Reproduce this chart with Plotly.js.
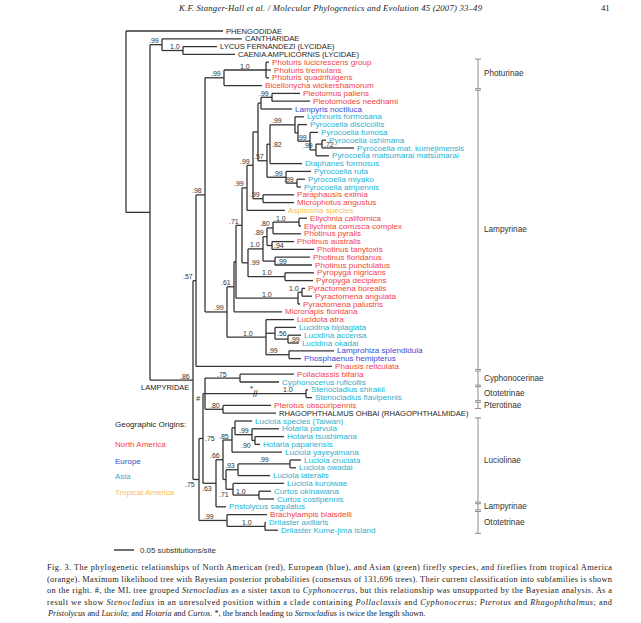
<!DOCTYPE html>
<html><head><meta charset="utf-8">
<script src="https://cdn.plot.ly/plotly-3.0.1.min.js"></script>
<style>html,body{margin:0;padding:0;background:#fff}#chart{width:641px;height:623px}</style>
</head><body><div id="chart"></div>
<script>
// ================= DATA =================
// Tips (top to bottom), geographic region, parent node and depth (substitutions/site from root)
const leafNames = [
 'PHENGODIDAE','CANTHARIDAE','LYCUS FERNANDEZI (LYCIDAE)','CAENIA AMPLICORNIS (LYCIDAE)',
 'Photuris lucicrescens group','Photuris tremulans','Photuris quadrifulgens','Bicellonycha wickershamorum',
 'Pleotomus pallens','Pleotomodes needhami','Lampyris noctiluca','Lychnuris formosana',
 'Pyrocoelia discicollis','Pyrocoelia fumosa','Pyrocoelia oshimana','Pyrocoelia mat. kumejimensis',
 'Pyrocoelia matsumarai matsumarai','Diaphanes formosus','Pyrocoelia rufa','Pyrocoelia miyako',
 'Pyrocoelia atripennis','Paraphausis eximia','Microphotus angustus','Aspisoma species',
 'Ellychnia californica','Ellychnia corrusca complex','Photinus pyralis','Photinus australis',
 'Photinus tanytoxis','Photinus floridanus','Photinus punctulatus','Pyropyga nigricans',
 'Pyropyga decipiens','Pyractomena borealis','Pyractomena angulata','Pyractomena palustris',
 'Micronapis floridana','Lucidota atra','Lucidina biplagiata','Lucidina accensa',
 'Lucidina okadai','Lamprohiza splendidula','Phosphaenus hemipterus','Phausis reticulata',
 'Pollaclassis bifaria','Cyphonocerus ruficollis','Stenocladius shirakii','Stenocladius flavipennis',
 'Pterotus obscuripennis','RHAGOPHTHALMUS OHBAI (RHAGOPHTHALMIDAE)','Luciola species (Taiwan)','Hotaria parvula',
 'Hotaria tsushimana','Hotaria papariensis','Luciola yayeyamana','Luciola cruciata',
 'Luciola owadai','Luciola lateralis','Luciola kuroiwae','Curtos okinawana',
 'Curtos costipennis','Pristolycus sagulatus','Brachylampis blaisdelli','Drilaster axillaris',
 'Drilaster Kume-jima island'];
const leafRegion = [
 'O','O','O','O','NA','NA','NA','NA','NA','NA','EU','AS','AS','AS','AS','AS','AS','AS','AS','AS',
 'AS','NA','NA','TA','NA','NA','NA','NA','NA','NA','NA','NA','NA','NA','NA','NA','NA','NA','AS','AS',
 'AS','EU','EU','NA','NA','AS','AS','AS','NA','O','AS','AS','AS','AS','AS','AS','AS','AS','AS','AS',
 'AS','AS','NA','AS','AS'];
const leafParent = [
 'root','B','LYC','LYC','PHS','PHS','PHS','PHO','PLt','PLt','PL','LC','PD','PF','P72','P72','PO','N82','PR','PMA',
 'PMA','PM','PM','N99c','E','E','N80','N94','N94','N99fp','N99fp','PY','PY','Pb','Pb','P','N61','L10','LN','AO',
 'AO','LP','LP','N57','PC','PC','ST','ST','PR2','PR2','TH','H','HT','HT','N85','LC2','LC2','N93','N71b','CU',
 'CU','N63','D99','DA','DA'];
const leafDepth = [
 0.2425,0.29,0.2275,0.2725,0.3575,0.3625,0.3575,0.34,0.435,0.46,0.415,0.445,0.4525,0.48,0.50,0.57,0.5075,0.44,0.4625,0.4475,
 0.4375,0.42,0.42,0.3975,0.4525,0.4375,0.4375,0.42,0.47,0.46,0.465,0.47,0.4675,0.4475,0.465,0.435,0.39,0.42,0.425,0.4375,
 0.4325,0.52,0.4375,0.515,0.42,0.3825,0.455,0.465,0.3625,0.375,0.315,0.3825,0.395,0.335,0.39,0.4375,0.425,0.36,0.395,0.3625,
 0.37,0.25,0.3525,0.35,0.38];

// Internal nodes: id, parent, depth (substitutions/site), Bayesian support
const nodeIds = ['root','A','B','LYC','LAMPY','N57','N98','PHO','PHS','N99b','N61','Q','N71','N99c','N99e','N57c','PL','PLt','AC','N82',
 'LC','PD','PF','PO','P72','PR','PMA','PM','N99d','PH','N89','N80','E','N94','N99fp','PY','P','Pb','L10','LN',
 'AO','LP','N75b','N75c','U','PC','ST','PR2','N63','N66','N85','TH','H','HT','LK','N93','LC2','N71b','CU','D99','DA'];
const nodeParent = [null,'root','A','B','A','LAMPY','N57','N98','PHO','N98','N99b','N61','Q','N71','N99c','N99e','N57c','PL','N57c','AC',
 'N82','LC','PD','PF','PO','AC','PR','N99e','N71','N99d','PH','N89','N80','N89','PH','N99d','Q','P','N99b','L10',
 'LN','L10','LAMPY','N75b','N75c','U','U','U','N75c','N63','N66','N85','TH','H','N66','LK','N93','LK','N71b','N75b','D99'];
const nodeDepth = [0,0.06,0.09,0.1425,0.1675,0.175,0.1975,0.245,0.35,0.2525,0.27,0.275,0.29,0.3025,0.3175,0.33,0.3375,0.365,0.3525,0.36,
 0.4225,0.43,0.46,0.475,0.49,0.40,0.4275,0.3425,0.305,0.3425,0.3525,0.3675,0.4325,0.365,0.3725,0.3975,0.43,0.44,0.35,0.3725,
 0.405,0.4075,0.1825,0.1925,0.1975,0.285,0.45,0.2425,0.225,0.2425,0.265,0.2725,0.315,0.3225,0.25,0.28,0.41,0.2675,0.3325,0.2525,0.3475];
const nodeSupport = ['','','.99','1.0','.86','.57','.98','.99','1.0','.99','.61','','.71','.99','.99','','','.99','.57','.82',
 '.99','','.99','.99','.72','.99','.99','.99','.99','1.0','.89','.80','1.0','.94','.99','1.0','1.0','1.0','1.0','.56',
 '.99','.99','.75','.75','#','.75','1.0','.80','.63','.66','.85','','.99','.90','','.93','.99','.71','1.0','.99','1.0'];

// Subfamily classification (right-hand brackets), by first/last tip row
const subfamNames = ['Photurinae','Lampyrinae','Cyphonocerinae','Ototetrinae','Pterotinae','Luciolinae','Lampyrinae','Ototetrinae'];
const subfamFirst = [4,8,44,46,48,50,61,62];
const subfamLast  = [7,43,45,47,48,60,61,64];

const regionCodes = ['NA','EU','AS','TA'];
const regionNames = ['North America','Europe','Asia','Tropical America'];
const scaleBarLength = 0.05;
const scaleBarLabel = '0.05 substitutions/site';
const cladeLabel = {node:'LAMPY', text:'LAMPYRIDAE'};

// ================= STYLE / LAYOUT OPTIONS =================
const W = 641, H = 623;
const X0PX = 126, PXPERUNIT = 400;   // depth 0 at 126 px; 0.05 subs/site = 20 px
const Y0PX = 31, PXPERROW = 7.8;     // tip row spacing
const regionColor = {NA:'#f2443f', EU:'#3a4bd6', AS:'#1fb2d2', TA:'#f7c24c', O:'#1e1e1e'};
const SANS = 'Liberation Sans, Arial, sans-serif';
const SERIF = 'Liberation Serif, Times New Roman, serif';
const supportPlacement = {LAMPY:'near', PHS:'mid', P:'mid', LC2:'mid', LP:'start',
  N75b:'below', N63:'below', U:'below', HT:'below', N71b:'below',
  P72:'right', AO:'right', LN:'right', N82:'right', N94:'right', N99fp:'right', N99d:'right', N75c:'right'};
const BRX = 478;

const xRange = [(0 - X0PX) / PXPERUNIT, (W - X0PX) / PXPERUNIT];
const yRange = [(H - Y0PX) / PXPERROW, (0 - Y0PX) / PXPERROW];
const paperX = p => p / W;
const paperY = p => 1 - p / H;

// ================= TREE GEOMETRY =================
const nodeIndex = {}; nodeIds.forEach((id, i) => nodeIndex[id] = i);
const depthOf = id => nodeDepth[nodeIndex[id]];
const kids = {}; nodeIds.forEach(id => kids[id] = []);
leafNames.forEach((n, i) => kids[leafParent[i]].push({leaf: true, i}));
nodeIds.forEach((id, i) => { if (nodeParent[i]) kids[nodeParent[i]].push({leaf: false, id}); });
const nodeY = {}, nodeSpan = {};
function yOfChild(c) { return c.leaf ? c.i : nodeYOf(c.id); }
function nodeYOf(id) {
  if (nodeY[id] !== undefined) return nodeY[id];
  const ys = kids[id].map(yOfChild);
  const lo = Math.min(...ys), hi = Math.max(...ys);
  nodeSpan[id] = [lo, hi];
  nodeY[id] = (lo + hi) / 2;
  return nodeY[id];
}
nodeYOf('root');

const lx = [], ly = [];
leafNames.forEach((n, i) => { lx.push(depthOf(leafParent[i]), leafDepth[i], null); ly.push(i, i, null); });
nodeIds.forEach((id, i) => {
  const p = nodeParent[i];
  if (p) { lx.push(depthOf(p), nodeDepth[i], null); ly.push(nodeY[id], nodeY[id], null); }
  const s = nodeSpan[id];
  lx.push(nodeDepth[i], nodeDepth[i], null); ly.push(s[0], s[1], null);
});

const traces = [{type:'scatter', mode:'lines', x:lx, y:ly, hoverinfo:'skip',
  line:{color:'#353535', width:1.3}, connectgaps:false}];

const ann = [], shapes = [];

// tip labels
leafNames.forEach((n, i) => {
  const upper = leafRegion[i] === 'O';
  ann.push({x: leafDepth[i], y: i, xref:'x', yref:'y', text: n, showarrow:false,
    xanchor:'left', yanchor:'middle', xshift:1.5, borderpad:0,
    font:{family:SANS, size: upper ? 7.6 : 8.1, color: regionColor[leafRegion[i]]}});
});

// support values
nodeIds.forEach((id, i) => {
  const s = nodeSupport[i]; if (!s) return;
  const d = nodeDepth[i], pd = depthOf(nodeParent[i]);
  const lenPx = (d - pd) * PXPERUNIT;
  const mode = supportPlacement[id] || (lenPx < 25 ? 'near' : 'far');
  const a = {xref:'x', yref:'y', y: nodeY[id], text: s, showarrow:false, yanchor:'middle', borderpad:0,
    font:{family:SANS, size: s === '#' ? 7.5 : 7, color:'#333'}};
  if (mode === 'near') { a.x = d; a.xanchor = 'right'; a.xshift = -2; a.yshift = 4; }
  else if (mode === 'far') { a.x = d; a.xanchor = 'right'; a.xshift = -12; a.yshift = 4; }
  else if (mode === 'mid') { a.x = (d + pd) / 2; a.xanchor = 'center'; a.yshift = 4; }
  else if (mode === 'start') { a.x = pd; a.xanchor = 'left'; a.xshift = 1; a.yshift = 4; }
  else if (mode === 'right') { a.x = d; a.xanchor = 'left'; a.xshift = 1; a.yshift = 0; }
  else if (mode === 'below') { a.x = d; a.xanchor = 'right'; a.xshift = -3; a.yshift = -5; }
  ann.push(a);
});

// clade name under the Lampyridae branch
ann.push({x: depthOf(cladeLabel.node), y: nodeY[cladeLabel.node], xref:'x', yref:'y', text: cladeLabel.text,
  showarrow:false, xanchor:'right', yanchor:'middle', xshift:-3, yshift:-7, borderpad:0,
  font:{family:SANS, size:7.5, color:'#222'}});

// long-branch break mark on the Stenocladius branch
{
  const d = depthOf('ST'), pd = depthOf('U'), y = nodeY['ST'];
  ann.push({x:(d + pd) / 2, y, xref:'x', yref:'y', text:'//', showarrow:false, xanchor:'center', yanchor:'middle',
    borderpad:0, font:{family:SANS, size:8.5, color:'#222'}});
  ann.push({x:(d + pd) / 2, y, xref:'x', yref:'y', text:'*', showarrow:false, xanchor:'center', yanchor:'middle',
    xshift:-4, yshift:5, borderpad:0, font:{family:SANS, size:8, color:'#222'}});
}

// subfamily brackets
subfamNames.forEach((n, k) => {
  const y0 = subfamFirst[k] - 0.4, y1 = subfamLast[k] + 0.4;
  const ln = {color:'#8c8c8c', width:1};
  shapes.push({type:'line', xref:'paper', yref:'y', x0:paperX(BRX), x1:paperX(BRX), y0, y1, line:ln});
  [y0, y1].forEach(yy => shapes.push({type:'line', xref:'paper', yref:'y',
    x0:paperX(BRX - 3), x1:paperX(BRX + 3), y0:yy, y1:yy, line:ln}));
  ann.push({xref:'paper', yref:'y', x:paperX(BRX + 5), y:(subfamFirst[k] + subfamLast[k]) / 2, text:n,
    showarrow:false, xanchor:'left', yanchor:'middle', borderpad:0, font:{family:SANS, size:8.2, color:'#333'}});
});

// geographic legend
ann.push({xref:'paper', yref:'paper', x:paperX(114), y:paperY(424), text:'Geographic Origins:', showarrow:false,
  xanchor:'left', yanchor:'middle', borderpad:0, font:{family:SANS, size:8, color:'#222'}});
const legendY = [444, 461, 476, 492];
regionCodes.forEach((c, k) => ann.push({xref:'paper', yref:'paper', x:paperX(114), y:paperY(legendY[k]),
  text:regionNames[k], showarrow:false, xanchor:'left', yanchor:'middle', borderpad:0,
  font:{family:SANS, size:8, color:regionColor[c]}}));

// scale bar
{
  const x0 = (114 - X0PX) / PXPERUNIT;
  shapes.push({type:'line', xref:'x', yref:'paper', x0, x1:x0 + scaleBarLength, y0:paperY(550), y1:paperY(550),
    line:{color:'#222', width:1.3}});
  ann.push({xref:'paper', yref:'paper', x:paperX(139), y:paperY(550), text:scaleBarLabel, showarrow:false,
    xanchor:'left', yanchor:'middle', borderpad:0, font:{family:SANS, size:7.9, color:'#333'}});
}

// running header
const justify = [];
ann.push({xref:'paper', yref:'paper', x:paperX(177), y:paperY(8),
  text:'<i>K.F. Stanger-Hall et al. / Molecular Phylogenetics and Evolution 45 (2007) 33–49</i>',
  showarrow:false, xanchor:'left', yanchor:'middle', align:'left', borderpad:0, font:{family:SERIF, size:8.7, color:'#222'}});
justify.push([ann.length - 1, 303]);
ann.push({xref:'paper', yref:'paper', x:paperX(611), y:paperY(8), text:'41', showarrow:false,
  xanchor:'right', yanchor:'middle', borderpad:0, font:{family:SERIF, size:8.7, color:'#222'}});

// caption
const captionLines = [
 'Fig. 3. The phylogenetic relationships of North American (red), European (blue), and Asian (green) firefly species, and fireflies from tropical America',
 '(orange). Maximum likelihood tree with Bayesian posterior probabilities (consensus of 131,696 trees). Their current classification into subfamilies is shown',
 'on the right. #, the ML tree grouped <i>Stenocladius</i> as a sister taxon to <i>Cyphonocerus</i>, but this relationship was unsupported by the Bayesian analysis. As a',
 'result we show <i>Stenocladius</i> in an unresolved position within a clade containing <i>Pollaclassis</i> and <i>Cyphonocerus</i>; <i>Pterotus</i> and <i>Rhagophthalmus</i>; and',
 '<i>Pristolycus</i> and <i>Luciola</i>; and <i>Hotaria</i> and <i>Curtos</i>. *, the branch leading to <i>Stenocladius</i> is twice the length shown.'];
const captionY = [567, 579, 590, 602, 613];
captionLines.forEach((t, k) => {
  ann.push({xref:'paper', yref:'paper', x:paperX(46), y:paperY(captionY[k]), text:t, showarrow:false,
    xanchor:'left', yanchor:'middle', align:'left', borderpad:0, font:{family:SERIF, size:8.3, color:'#222'}});
  if (k < captionLines.length - 1) justify.push([ann.length - 1, 565]);
});

const layout = {width:W, height:H, margin:{l:0, r:0, t:0, b:0}, paper_bgcolor:'#fff', plot_bgcolor:'#fff',
  showlegend:false, xaxis:{range:xRange, visible:false, fixedrange:true},
  yaxis:{range:yRange, visible:false, fixedrange:true}, annotations:ann, shapes:shapes};

Plotly.newPlot('chart', traces, layout, {displayModeBar:false, staticPlot:true}).then(gd => {
  justify.forEach(([idx, len]) => {
    const t = gd.querySelector('g.annotation[data-index="' + idx + '"] text.annotation-text');
    if (!t) return;
    const b0 = t.getBBox();
    t.setAttribute('textLength', len);
    t.setAttribute('lengthAdjust', 'spacing');
    const b1 = t.getBBox();
    const dx = b0.x - b1.x;
    if (Math.abs(dx) > 0.5) {
      const tr = t.getAttribute('transform') || '';
      t.setAttribute('transform', (tr + ' translate(' + dx + ',0)').trim());
    }
  });
});
</script></body></html>
